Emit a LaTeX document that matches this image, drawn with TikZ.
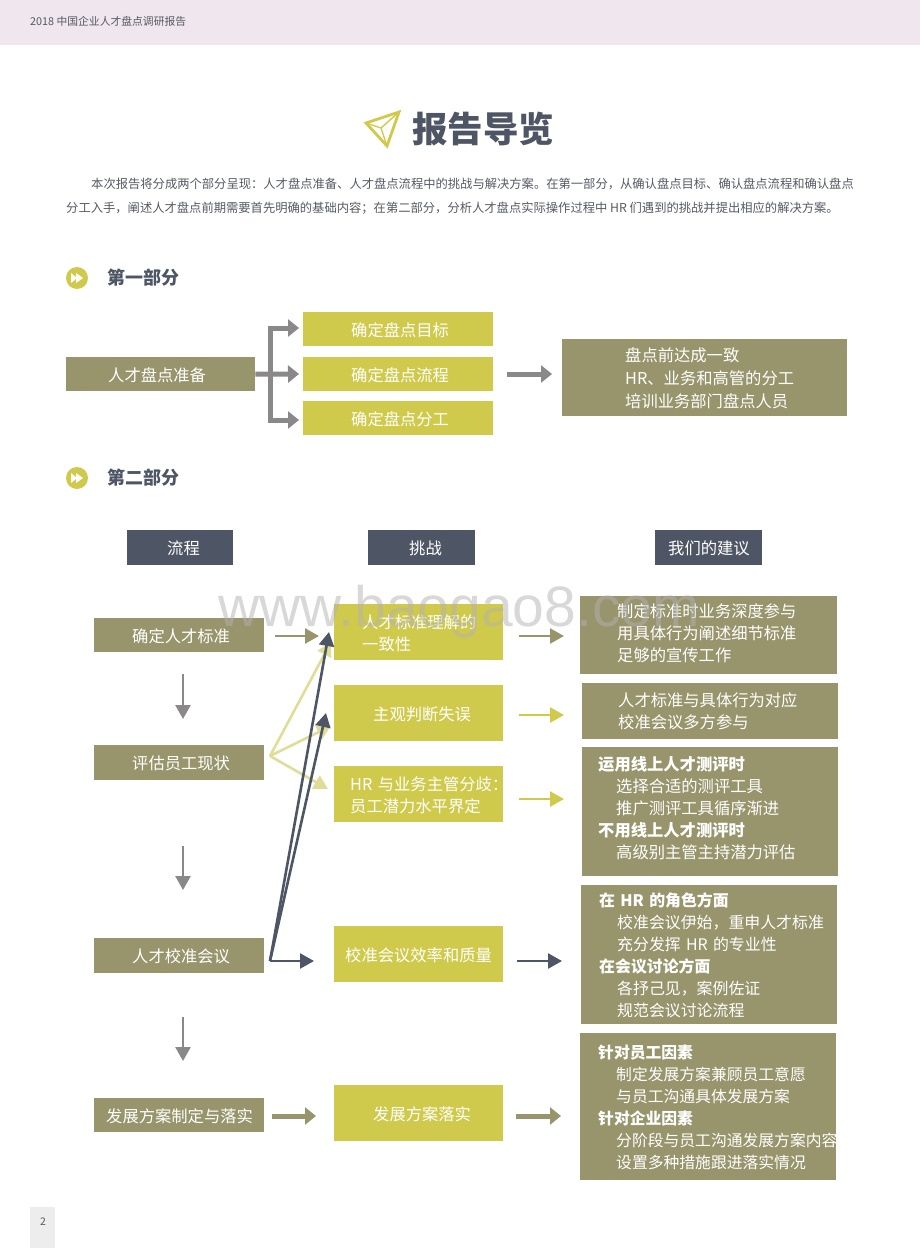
\documentclass[tikz,border=0pt]{standalone}
\usepackage{fontspec}
\setmainfont{Noto Sans CJK SC}
\newfontfamily\wmfont{Liberation Sans}
\usetikzlibrary{arrows.meta}
\definecolor{olivebox}{HTML}{98946C}
\definecolor{yellowbox}{HTML}{CFCA4B}
\definecolor{darkbox}{HTML}{4E5564}
\definecolor{greyarrow}{HTML}{8A8888}
\definecolor{palearrow}{HTML}{E0DD99}
\definecolor{bandpink}{HTML}{F0E6EE}
\definecolor{bodytext}{HTML}{555A63}
\tikzset{
  boxtext/.style={inner sep=0pt,anchor=north west,text=white,align=left},
  thin arrow/.style={line width=2.6pt,-{Triangle[length=14pt,width=15pt]}},
  fat arrow/.style={line width=5pt,-{Triangle[length=11pt,width=17pt]}},
  plain text/.style={inner sep=0pt,anchor=west,text=bodytext},
}
\newcommand{\rz}{2.5}
% [font size], name, x0, y0, x1, y1, fill, text offset, text; \rz = downward text shift
\newcommand{\bxnode}[9][16.3]{%
  \pgfmathsetmacro{\bxw}{#5-#3}\pgfmathsetmacro{\bxh}{#6-#4}%
  \node[boxtext,fill=#7,text width=\bxw pt,minimum height=\bxh pt,font=\fontsize{#1}{22}\selectfont] (#2) at (#3,#4) {\hspace*{#8pt}\raisebox{-\rz pt}[\height][\depth]{\begin{tabular}{@{}l@{}}#9\end{tabular}}};%
}
\newcommand{\indt}{\hspace*{18pt}}
\begin{document}
\begin{tikzpicture}[x=1pt,y=-1pt]
\useasboundingbox (0,0) rectangle (920,1249);
\fill[white] (0,0) rectangle (920,1249);
% header band
\node[inner sep=0pt,anchor=north west,fill=bandpink,minimum width=920pt,minimum height=45pt] (band) at (0,0) {};
\node[plain text,font=\fontsize{10.8}{12}\selectfont] (bandtext) at (30,21) {2018 中国企业人才盘点调研报告};
% title
\draw[yellowbox,line width=2.8pt,line join=miter] (399,112) -- (366,123) -- (387,146) -- cycle;
\draw[yellowbox,line width=1.4pt] (399,112) -- (381,128) -- (366,123) (381,128) -- (387,146);
\node[plain text,font=\fontsize{35.5}{40}\selectfont\bfseries,text=darkbox] (title) at (412,129) {报告导览};
% intro
\node[plain text,font=\fontsize{12.3}{14}\selectfont] (introa) at (91,184) {本次报告将分成两个部分呈现：人才盘点准备、人才盘点流程中的挑战与解决方案。在第一部分，从确认盘点目标、确认盘点流程和确认盘点};
\node[plain text,font=\fontsize{12.3}{14}\selectfont] (introb) at (66,208) {分工入手，阐述人才盘点前期需要首先明确的基础内容；在第二部分，分析人才盘点实际操作过程中 HR 们遇到的挑战并提出相应的解决方案。};
% section marks
\foreach \nm/\yy/\tx in {one/278/第一部分,two/478/第二部分}{
  \node[circle,fill=yellowbox,minimum size=22pt,inner sep=0pt] (mark\nm) at (77,\yy) {};
  \fill[white] (71,\yy-5) -- (77,\yy) -- (71,\yy+5) -- cycle (76,\yy-5) -- (83,\yy) -- (76,\yy+5) -- cycle;
  \node[plain text,font=\fontsize{18}{20}\selectfont\bfseries,text=darkbox] (head\nm) at (107,\yy) {\tx};
}
% part 1
\bxnode{prep}{66}{357}{255}{391}{olivebox}{42}{人才盘点准备}
\bxnode{goal}{303}{312}{493}{346}{yellowbox}{48}{确定盘点目标}
\bxnode{flow}{303}{357}{493}{391}{yellowbox}{48}{确定盘点流程}
\bxnode{dutya}{303}{401}{493}{435}{yellowbox}{48}{确定盘点分工}
\bxnode{result}{562}{339}{847}{416}{olivebox}{63}{盘点前达成一致\\[1pt]HR、业务和高管的分工\\[1pt]培训业务部门盘点人员}
\coordinate (split) at (270,374);
\coordinate (tipa) at (299,328);
\coordinate (tipb) at (299,374);
\coordinate (tipc) at (299,420);
\coordinate (bigs) at (507,374);
\coordinate (bige) at (552,374);
\draw[fat arrow,greyarrow] (prep.east) -- (tipb);
\draw[fat arrow,greyarrow] (split) |- (tipa);
\draw[fat arrow,greyarrow] (split) |- (tipc);
\draw[fat arrow,greyarrow] (bigs) -- (bige);
% part 2 column heads
\bxnode{hflow}{127}{530}{233}{565}{darkbox}{40}{流程}
\bxnode{hchal}{368}{530}{475}{565}{darkbox}{41}{挑战}
\bxnode{hadv}{655}{530}{762}{565}{darkbox}{13}{我们的建议}
% column 1
\bxnode{ca}{94}{618}{264}{652}{olivebox}{38}{确定人才标准}
\bxnode{cb}{94}{745}{264}{780}{olivebox}{38}{评估员工现状}
\bxnode{cc}{94}{938}{264}{973}{olivebox}{38}{人才校准会议}
\bxnode{cd}{94}{1098}{264}{1132}{olivebox}{12}{发展方案制定与落实}
% column 2
\bxnode{da}{334}{604}{503}{660}{yellowbox}{28}{人才标准理解的\\一致性}
\bxnode{db}{334}{685}{503}{741}{yellowbox}{39}{主观判断失误}
\bxnode{dc}{334}{766}{503}{822}{yellowbox}{16}{HR 与业务主管分歧：\\员工潜力水平界定}
\bxnode{dd}{334}{926}{503}{982}{yellowbox}{11}{校准会议效率和质量}
\bxnode{de}{334}{1085}{503}{1141}{yellowbox}{39}{发展方案落实}
% column 3
\renewcommand{\rz}{0}
\bxnode{ea}{580}{596}{837}{674}{olivebox}{37}{制定标准时业务深度参与\\用具体行为阐述细节标准\\足够的宣传工作}
\renewcommand{\rz}{1.5}
\bxnode{eb}{582}{683}{838}{739}{olivebox}{36}{人才标准与具体行为对应\\校准会议多方参与}
\renewcommand{\rz}{-1.5}
\bxnode{ec}{582}{747}{838}{876}{olivebox}{16}{\textbf{运用线上人才测评时}\\\indt 选择合适的测评工具\\\indt 推广测评工具循序渐进\\\textbf{不用线上人才测评时}\\\indt 高级别主管主持潜力评估}
\renewcommand{\rz}{2.5}
\bxnode[15.9]{ed}{581}{885}{837}{1024}{olivebox}{18}{\textbf{在 HR 的角色方面}\\\indt 校准会议伊始，重申人才标准\\\indt 充分发挥 HR 的专业性\\\textbf{在会议讨论方面}\\\indt 各抒己见，案例佐证\\\indt 规范会议讨论流程}
\bxnode[15.8]{ee}{580}{1033}{836}{1180}{olivebox}{18}{\textbf{针对员工因素}\\\indt 制定发展方案兼顾员工意愿\\\indt 与员工沟通具体发展方案\\\textbf{针对企业因素}\\\indt 分阶段与员工沟通发展方案内容\\\indt 设置多种措施跟进落实情况}
% free ends
\coordinate (as) at (275,636);   \coordinate (ae) at (319,636);
\coordinate (ras) at (519,636);  \coordinate (rae) at (564,636);
\coordinate (rbs) at (519,715);  \coordinate (rbe) at (564,715);
\coordinate (rcs) at (519,799);  \coordinate (rce) at (564,799);
\coordinate (rds) at (517,961);  \coordinate (rde) at (562,961);
\coordinate (res) at (516,1116); \coordinate (ree) at (561,1116);
\coordinate (ds) at (272,1116);  \coordinate (de) at (316,1116);
\coordinate (va) at (183,674);   \coordinate (vb) at (183,719);
\coordinate (vc) at (183,846);   \coordinate (vd) at (183,890);
\coordinate (ve) at (183,1017);  \coordinate (vf) at (183,1061);
\coordinate (pale) at (270,756);
\coordinate (palea) at (331,642); \coordinate (paleb) at (331,726); \coordinate (palec) at (328,789);
\coordinate (dark) at (270,961);
\coordinate (darka) at (329,632); \coordinate (darkb) at (326,713); \coordinate (darkc) at (314,961);
% arrows
\draw[thin arrow,olivebox] (as) -- (ae);
\draw[thin arrow,olivebox] (ras) -- (rae);
\draw[thin arrow,yellowbox] (rbs) -- (rbe);
\draw[thin arrow,yellowbox] (rcs) -- (rce);
\draw[thin arrow,darkbox] (rds) -- (rde);
\draw[fat arrow,olivebox] (res) -- (ree);
\draw[fat arrow,olivebox] (ds) -- (de);
\draw[thin arrow,greyarrow] (va) -- (vb);
\draw[thin arrow,greyarrow] (vc) -- (vd);
\draw[thin arrow,greyarrow] (ve) -- (vf);
\draw[thin arrow,palearrow] (pale) -- (palea);
\draw[thin arrow,palearrow] (pale) -- (paleb);
\draw[thin arrow,palearrow] (pale) -- (palec);
\draw[thin arrow,darkbox] (dark) -- (darka);
\draw[thin arrow,darkbox] (dark) -- (darkb);
\draw[thin arrow,darkbox] (dark) -- (darkc);
% watermark
\node[inner sep=0pt,anchor=west,text=black!30,text opacity=.5,font=\fontsize{57}{60}\selectfont\wmfont] (wm) at (218,612) {www.baogao8.com};
% page number
\node[inner sep=0pt,anchor=north west,fill=black!7,minimum width=25pt,minimum height=41pt] (pagebox) at (30,1207) {};
\node[inner sep=0pt,text=bodytext,font=\fontsize{10.5}{12}\selectfont] (pagenum) at (43,1222) {2};
\end{tikzpicture}
\end{document}
